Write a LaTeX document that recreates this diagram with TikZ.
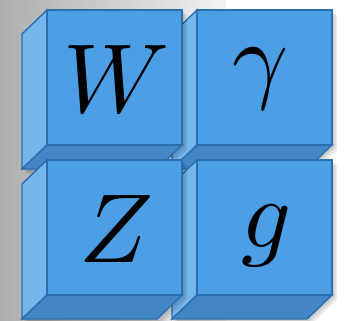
\documentclass[tikz,border=0pt]{standalone}
\usepackage{tikz}
\definecolor{cubefront}{HTML}{4C9FE4}
\definecolor{cubeleft}{HTML}{75B6EC}
\definecolor{cubebottom}{HTML}{4286C6}
\definecolor{cubeline}{HTML}{2A6FAE}
\tikzset{
  faceline/.style={draw=cubeline, line width=1.4pt, line join=miter},
  cubeshadow/.style={fill=black, opacity=0.07},
  letter/.style={inner sep=0pt, anchor=base, font=\normalsize, scale=9.8},
  pics/bluecube/.style={code={
    \foreach \s in {2,3.5,5}{
      \fill[cubeshadow] (\s,\s) -- (135+\s,\s) -- (135+\s,135+\s) -- (110+\s,159+\s)
        -- (-25+\s,159+\s) -- (-25+\s,24+\s) -- cycle;
    }
    \fill[cubeleft, faceline] (0,0) -- (-25,24) -- (-25,159) -- (0,135) -- cycle;
    \fill[cubebottom, faceline] (0,135) -- (135,135) -- (110,159) -- (-25,159) -- cycle;
    \fill[cubefront, faceline] (0,0) rectangle (135,135);
  }}
}
\begin{document}
\begin{tikzpicture}[x=1pt,y=-1pt]
  \useasboundingbox (0,0) rectangle (348,321);
  \fill[white] (0,0) rectangle (348,321);
  \fill[left color=black!32, right color=black!5] (0,0) rectangle (226,321);
  \pic at (197,10) {bluecube};
  \pic at (47,10) {bluecube};
  \pic at (197,160) {bluecube};
  \pic at (47,160) {bluecube};
  \node[letter] (w) at (116.5,112) {$W$};
  \node[letter] (gam) at (261,90) {$\gamma$};
  \node[letter] (z) at (116.5,262) {$Z$};
  \node[letter] (g) at (266.5,247) {$g$};
\end{tikzpicture}
\end{document}
